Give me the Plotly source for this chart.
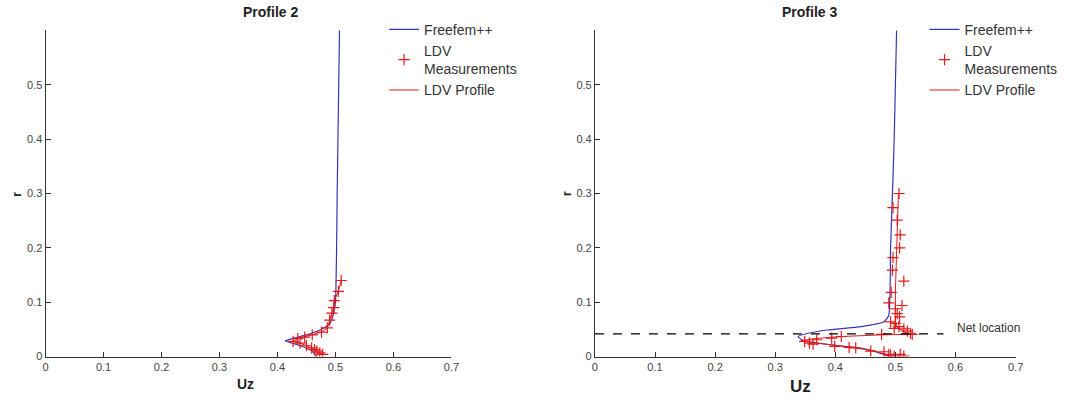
import plotly.graph_objects as go

# ---------------- data ----------------
# Profile 2 (left)
p2_fem_uz = [0.507, 0.505, 0.503, 0.502, 0.500, 0.497, 0.490, 0.475, 0.450, 0.425, 0.413, 0.425, 0.440, 0.460, 0.467]
p2_fem_r = [0.600, 0.450, 0.300, 0.200, 0.100, 0.080, 0.060, 0.050, 0.040, 0.033, 0.029, 0.025, 0.020, 0.010, 0.000]

p2_ldv_uz = [0.510, 0.505, 0.498, 0.497, 0.494, 0.490, 0.486, 0.476, 0.460, 0.447, 0.435, 0.427, 0.439, 0.450, 0.459, 0.464, 0.468, 0.473, 0.478]
p2_ldv_r = [0.140, 0.120, 0.103, 0.090, 0.080, 0.067, 0.053, 0.045, 0.040, 0.036, 0.033, 0.028, 0.025, 0.020, 0.016, 0.013, 0.010, 0.007, 0.004]

p2_prof_uz = p2_ldv_uz
p2_prof_r = p2_ldv_r

# Profile 3 (right)
p3_fem_uz = [0.502, 0.500, 0.498, 0.496, 0.492, 0.489, 0.481, 0.443, 0.387, 0.355, 0.338, 0.344, 0.371, 0.415, 0.454, 0.481, 0.489]
p3_fem_r = [0.600, 0.500, 0.400, 0.330, 0.200, 0.076, 0.064, 0.055, 0.049, 0.043, 0.037, 0.031, 0.025, 0.019, 0.013, 0.004, 0.000]

p3_ldv_uz = [0.506, 0.496, 0.503, 0.508, 0.507, 0.496, 0.495, 0.514, 0.493, 0.489, 0.511, 0.500, 0.503, 0.507,
             0.492, 0.500, 0.506, 0.498, 0.514, 0.520, 0.525, 0.528, 0.477, 0.410, 0.394, 0.369, 0.349,
             0.357, 0.363, 0.399, 0.423, 0.434, 0.459, 0.481, 0.489, 0.492, 0.498, 0.514, 0.508]
p3_ldv_r = [0.300, 0.274, 0.251, 0.224, 0.200, 0.182, 0.159, 0.139, 0.118, 0.099, 0.094, 0.088, 0.079, 0.073,
            0.064, 0.061, 0.055, 0.052, 0.051, 0.047, 0.043, 0.041, 0.041, 0.037, 0.034, 0.031, 0.028,
            0.025, 0.023, 0.019, 0.017, 0.016, 0.010, 0.009, 0.004, 0.003, 0.001, 0.001, 0.004]

p3_prof_uz = [0.505, 0.502, 0.500, 0.500, 0.500, 0.502, 0.513, 0.525, 0.477, 0.410, 0.365, 0.343, 0.365, 0.399, 0.436, 0.466, 0.487, 0.495]
p3_prof_r = [0.300, 0.200, 0.120, 0.076, 0.065, 0.055, 0.046, 0.041, 0.040, 0.037, 0.033, 0.029, 0.025, 0.021, 0.016, 0.010, 0.004, 0.001]

net_uz = [0.0, 0.58]
net_r = [0.042, 0.042]

x_ticks = [0, 0.1, 0.2, 0.3, 0.4, 0.5, 0.6, 0.7]
x_ticklabels = ["0", "0.1", "0.2", "0.3", "0.4", "0.5", "0.6", "0.7"]
y_ticks = [0, 0.1, 0.2, 0.3, 0.4, 0.5]
y_ticklabels = ["0", "0.1", "0.2", "0.3", "0.4", "0.5"]

BLUE = "#3535b5"
RED = "#e31a1a"
FONT = "Liberation Sans, Arial, sans-serif"
W, H = 1081, 404

fig = go.Figure()

def add_panel(xa, ya, fem_x, fem_y, ldv_x, ldv_y, prof_x, prof_y, legend):
    fig.add_trace(go.Scatter(x=fem_x, y=fem_y, mode="lines", name="Freefem++",
                             line=dict(color=BLUE, width=1.2, shape="spline", smoothing=0.5),
                             xaxis=xa, yaxis=ya, legend=legend))
    fig.add_trace(go.Scatter(x=ldv_x, y=ldv_y, mode="markers", name="LDV<br>Measurements",
                             marker=dict(symbol="cross-thin", size=8, line=dict(color=RED, width=1.2)),
                             xaxis=xa, yaxis=ya, legend=legend))
    fig.add_trace(go.Scatter(x=prof_x, y=prof_y, mode="lines", name="LDV Profile",
                             line=dict(color=RED, width=1), xaxis=xa, yaxis=ya, legend=legend))

add_panel("x", "y", p2_fem_uz, p2_fem_r, p2_ldv_uz, p2_ldv_r, p2_prof_uz, p2_prof_r, "legend")
add_panel("x2", "y2", p3_fem_uz, p3_fem_r, p3_ldv_uz, p3_ldv_r, p3_prof_uz, p3_prof_r, "legend2")

fig.add_trace(go.Scatter(x=net_uz, y=net_r, mode="lines", showlegend=False,
                         line=dict(color="black", width=1.2, dash="dash"), xaxis="x2", yaxis="y2"))

ydom = [(H - 362) / H, (H - 30.8) / H]
axis_common = dict(showgrid=False, zeroline=False, showline=True, linecolor="#333333", linewidth=1,
                   ticks="inside", ticklen=5, tickcolor="#333333",
                   tickfont=dict(family=FONT, size=11, color="#444444"))

fig.update_layout(
    width=W, height=H, margin=dict(l=0, r=0, t=0, b=0),
    paper_bgcolor="white", plot_bgcolor="white",
    xaxis=dict(domain=[43 / W, 453 / W], range=[0, 0.7], tickvals=x_ticks, ticktext=x_ticklabels,
               anchor="y", **axis_common),
    yaxis=dict(domain=ydom, range=[0, 0.6], tickvals=y_ticks, ticktext=y_ticklabels,
               anchor="x", **axis_common),
    xaxis2=dict(domain=[598 / W, 1023 / W], range=[0, 0.7], tickvals=x_ticks, ticktext=x_ticklabels,
                anchor="y2", **axis_common),
    yaxis2=dict(domain=ydom, range=[0, 0.6], tickvals=y_ticks, ticktext=y_ticklabels,
                anchor="x2", **axis_common),
    legend=dict(x=385 / W, y=1 - 14 / H, xanchor="left", yanchor="top", bgcolor="rgba(0,0,0,0)",
                font=dict(family=FONT, size=14, color="#333333"), tracegroupgap=0),
    legend2=dict(x=931 / W, y=1 - 14 / H, xanchor="left", yanchor="top", bgcolor="rgba(0,0,0,0)",
                 font=dict(family=FONT, size=14, color="#333333"), tracegroupgap=0),
    showlegend=True,
)

def ann(text, x, y, size, bold=False, angle=0, color="#222222"):
    fig.add_annotation(text=f"<b>{text}</b>" if bold else text, xref="paper", yref="paper",
                       x=x / W, y=1 - y / H, showarrow=False, xanchor="center", yanchor="middle",
                       textangle=angle, font=dict(family=FONT, size=size, color=color))

ann("Profile 2", 270, 12, 14, bold=True)
ann("Profile 3", 815, 12, 14, bold=True)
ann("Uz", 245, 390, 14, bold=True)
ann("Uz", 806, 392, 17, bold=True)
ann("r", 13, 197, 13, bold=True, angle=-90)
ann("r", 569, 197, 13, bold=True, angle=-90)
fig.add_annotation(text="Net location", xref="x2", yref="y2", x=0.6, y=0.052, showarrow=False,
                   xanchor="left", yanchor="middle", font=dict(family=FONT, size=12, color="#333333"))

fig.write_html("out.html")
